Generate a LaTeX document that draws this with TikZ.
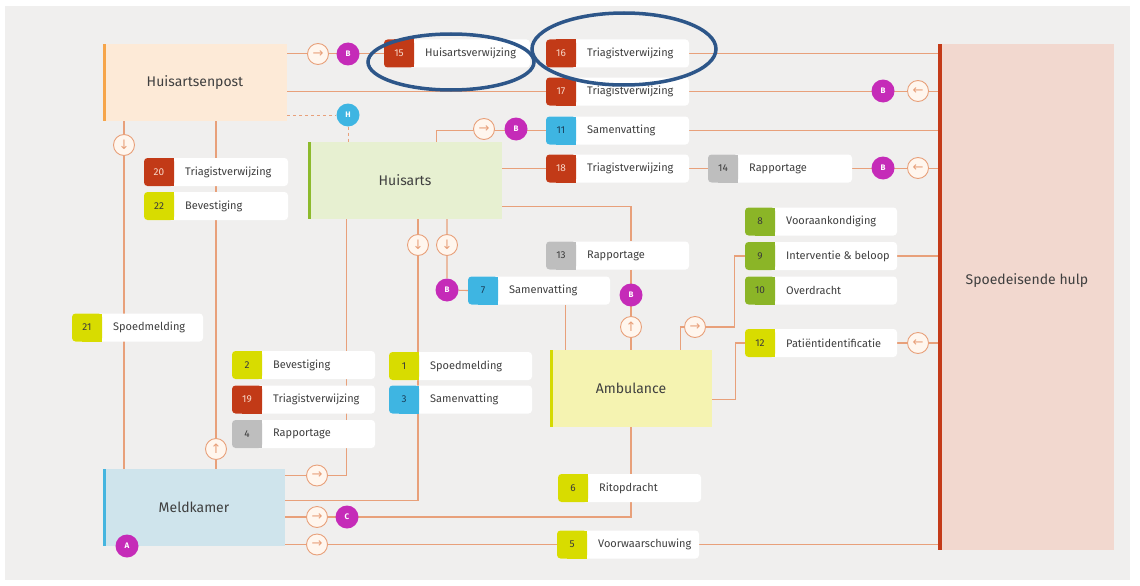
\documentclass[tikz,border=0pt]{standalone}
\usepackage{fontspec}
\setmainfont{Fira Sans}
\newfontfamily\symfont{DejaVu Sans}
\usetikzlibrary{calc}
\pgfdeclarelayer{back}\pgfdeclarelayer{lines}
\pgfsetlayers{back,lines,main}
\definecolor{bggray}{HTML}{F0EFEE}
\definecolor{lineor}{HTML}{E8A07A}
\definecolor{arrfill}{HTML}{FFF6EE}
\definecolor{mag}{HTML}{C52BB8}
\definecolor{tabred}{HTML}{C23A17}
\definecolor{tabblue}{HTML}{3EB5E2}
\definecolor{tabgray}{HTML}{BEBEBE}
\definecolor{tabyel}{HTML}{D8DC00}
\definecolor{tabgreen}{HTML}{8BB527}
\definecolor{hapfill}{HTML}{FDEAD7}
\definecolor{hapbar}{HTML}{F6A54A}
\definecolor{hafill}{HTML}{E7F0D1}
\definecolor{habar}{HTML}{8DBA2C}
\definecolor{ambfill}{HTML}{F5F3B1}
\definecolor{ambbar}{HTML}{D5DA00}
\definecolor{mkfill}{HTML}{CFE4EC}
\definecolor{mkbar}{HTML}{45B5DF}
\definecolor{sehfill}{HTML}{F2D8CF}
\definecolor{sehbar}{HTML}{C43A18}
\definecolor{ellc}{HTML}{2D5689}
\definecolor{textc}{HTML}{3F3F3F}
\definecolor{numlight}{HTML}{F8D8C8}
\definecolor{numdark}{HTML}{3A3A3A}
\definecolor{numblue}{HTML}{1A3F5A}
\newcommand\msg[8]{%
  \node[msgbox, minimum width=#4pt] (#1) at ({#2+#4/2},{#3}) {};
  \fill[#5, rounded corners=3.5pt] ({#2},{#3-14}) rectangle ({#2+30},{#3+14});
  \fill[#5] ({#2+10},{#3-14}) rectangle ({#2+30},{#3+14});
  \node[numtxt, text=#6] (#1n) at ({#2+15},{#3}) {#7};
  \node[msgtxt] (#1t) at ({#2+41},{#3}) {#8};}
\begin{document}
\begin{tikzpicture}[x=1pt,y=-1pt,
  msgbox/.style={rectangle, rounded corners=3.5pt, fill=white, minimum height=28pt, inner sep=0pt},
  numtxt/.style={font=\fontsize{10}{11}\selectfont, inner sep=0pt},
  msgtxt/.style={anchor=west, font=\fontsize{11}{12}\selectfont, text=textc, inner sep=0pt},
  bigbox/.style={rectangle, inner sep=0pt, font=\fontsize{14}{16}\selectfont, text=textc},
  conn/.style={draw=lineor, line width=1.1pt},
  dconn/.style={draw=lineor, line width=0.8pt, dash pattern=on 3pt off 3pt},
  arrc/.style={circle, draw=lineor, line width=0.9pt, fill=arrfill, minimum size=21pt, inner sep=0pt, text=lineor, font=\symfont\fontsize{13}{13}\selectfont},
  bc/.style={circle, fill=mag, minimum size=23pt, inner sep=0pt, text=white, font=\bfseries\fontsize{8}{8}\selectfont},
  ell/.style={draw=ellc, line width=3.5pt}]
\useasboundingbox (0,0) rectangle (1140,586);
\begin{pgfonlayer}{back}
\fill[white] (0,0) rectangle (1140,586);
\fill[bggray] (5,6) rectangle (1130,580);
\end{pgfonlayer}

% big boxes
\node[bigbox, fill=hapfill, minimum width=184pt, minimum height=77pt] (hap) at (195,82.5) {Huisartsenpost};
\fill[hapbar] (hap.north west) rectangle ([xshift=3.5pt]hap.south west);
\node[bigbox, fill=hafill, minimum width=194pt, minimum height=77pt] (ha) at (405,180.5) {Huisarts};
\fill[habar] (ha.north west) rectangle ([xshift=3.5pt]ha.south west);
\node[bigbox, fill=ambfill, minimum width=162pt, minimum height=77pt] (amb) at (631,388.5) {Ambulance};
\fill[ambbar] (amb.north west) rectangle ([xshift=3.5pt]amb.south west);
\node[bigbox, fill=mkfill, minimum width=182pt, minimum height=77pt] (mk) at (194,507.5) {Meldkamer};
\fill[mkbar] (mk.north west) rectangle ([xshift=3.5pt]mk.south west);
\node[bigbox, fill=sehfill, minimum width=175pt, minimum height=506pt] (seh) at (1026,297) {};
\node[bigbox] (sehl) at (1027,281) {Spoedeisende hulp};
\fill[sehbar] (seh.north west) rectangle ([xshift=4pt]seh.south west);

% message boxes
\msg{m15}{384}{53.5}{146}{tabred}{numlight}{15}{Huisartsverwijzing}
\msg{m16}{546}{53.5}{143}{tabred}{numlight}{16}{Triagistverwijzing}
\msg{m17}{546}{91.5}{143}{tabred}{numlight}{17}{Triagistverwijzing}
\msg{m11}{546}{130.5}{143}{tabblue}{numblue}{11}{Samenvatting}
\msg{m18}{546}{168.5}{143}{tabred}{numlight}{18}{Triagistverwijzing}
\msg{m14}{708}{168.5}{144}{tabgray}{numdark}{14}{Rapportage}
\msg{m20}{144}{172}{144}{tabred}{numlight}{20}{Triagistverwijzing}
\msg{m22}{144}{206}{144}{tabyel}{numdark}{22}{Bevestiging}
\msg{m8}{745}{221.5}{152}{tabgreen}{numdark}{8}{Vooraankondiging}
\msg{m9}{745}{256}{152}{tabgreen}{numdark}{9}{Interventie \& beloop}
\msg{m10}{745}{290.5}{152}{tabgreen}{numdark}{10}{Overdracht}
\msg{m12}{745}{343}{152}{tabyel}{numdark}{12}{Patiëntidentificatie}
\msg{m13}{546}{255.5}{143}{tabgray}{numdark}{13}{Rapportage}
\msg{m7}{468}{290.5}{142}{tabblue}{numblue}{7}{Samenvatting}
\msg{m21}{72}{327.5}{131}{tabyel}{numdark}{21}{Spoedmelding}
\msg{m2}{232}{365}{143}{tabyel}{numdark}{2}{Bevestiging}
\msg{m19}{232}{399.5}{143}{tabred}{numlight}{19}{Triagistverwijzing}
\msg{m4}{232}{434}{143}{tabgray}{numdark}{4}{Rapportage}
\msg{m1}{389}{366}{143}{tabyel}{numdark}{1}{Spoedmelding}
\msg{m3}{389}{399.5}{143}{tabblue}{numblue}{3}{Samenvatting}
\msg{m6}{558}{488}{143}{tabyel}{numdark}{6}{Ritopdracht}
\msg{m5}{557}{544.5}{142}{tabyel}{numdark}{5}{Voorwaarschuwing}

% circles
\node[arrc] (a1) at (318,54) {→};
\node[bc] (b1) at (348,54) {B};
\node[bc] (b2) at (883,91) {B};
\node[arrc] (a2) at (918,91) {←};
\node[bc, fill=tabblue] (hcir) at (348,115) {H};
\node[arrc] (a3) at (484,129) {→};
\node[bc] (b3) at (516,129) {B};
\node[bc] (b4) at (883,168) {B};
\node[arrc] (a4) at (918,168) {←};
\node[arrc] (a6) at (418,245) {↓};
\node[arrc] (a7) at (447,245) {↓};
\node[bc] (b6) at (447,290) {B};
\node[bc] (b5) at (631,295) {B};
\node[arrc] (a5) at (631,327) {↑};
\node[arrc] (a13) at (695,327) {→};
\node[arrc] (a14) at (918,343) {←};
\node[arrc] (a10) at (124,145) {↓};
\node[arrc] (a9) at (216,449) {↑};
\node[arrc] (a8) at (317,475.5) {→};
\node[arrc] (a11) at (317,517) {→};
\node[bc] (c1) at (347,517) {C};
\node[arrc] (a12) at (317,544.5) {→};
\node[bc] (ac) at (127,546) {A};

% connectors
\begin{pgfonlayer}{lines}
\draw[conn] (hap.east |- m15) -- (m15.west);
\draw[conn] (m16.east) -- (seh.west |- m16);
\draw[conn] (hap.east |- m17) -- (m17.west);
\draw[conn] (m17.east) -- (seh.west |- m17);
\draw[dconn] (hap.east |- hcir) -- (hcir);
\draw[dconn] (hcir) -- (hcir |- ha.north);
\draw[conn] ([xshift=129pt]ha.north west) |- (m11.west);
\draw[conn] (m11.east) -- (seh.west |- m11);
\draw[conn] (ha.east |- m18) -- (m18.west);
\draw[conn] (m18.east) -- (m14.west);
\draw[conn] (m14.east) -- (seh.west |- m14);
\draw[conn] ([yshift=13pt]ha.south east) -| (b5 |- m13.north);
\draw[conn] (b5 |- m13.south) -- (b5 |- amb.north);
\draw[conn] (a6 |- ha.south) -- (a6) |- ([yshift=7pt]mk.east);
\draw[conn] (a7 |- ha.south) -- (b6) -- (m7.west);
\draw[conn] ([xshift=98pt]m7.south west) -- ([xshift=98pt]m7.south west |- amb.north);
\draw[conn] ([xshift=39pt]ha.south west) |- ([yshift=32pt]mk.east);
\draw[conn] (a9 |- hap.south) -- (a9 |- mk.north);
\draw[conn] (a10 |- hap.south) -- (a10 |- mk.north);
\draw[conn] (mk.east |- a11) -| (b5 |- amb.south);
\draw[conn] (mk.east |- a12) -- (m5.west);
\draw[conn] (m5.east) -- (seh.west |- m5);
\draw[conn] ([xshift=131pt]amb.north west) |- (a13) -| ([xshift=-10pt]m9.west) -- (m9.west);
\draw[conn] (m9.east) -- (seh.west |- m9);
\draw[conn] ([yshift=-11pt]amb.east) -| ([xshift=-9pt]m12.west) -- (m12.west);
\draw[conn] (m12.east) -- (seh.west |- m12);
\end{pgfonlayer}

% highlight ellipses
\draw[ell] (451,62) ellipse [x radius=83pt, y radius=28pt];
\draw[ell] (624,49) ellipse [x radius=92pt, y radius=36pt];
\end{tikzpicture}
\end{document}
